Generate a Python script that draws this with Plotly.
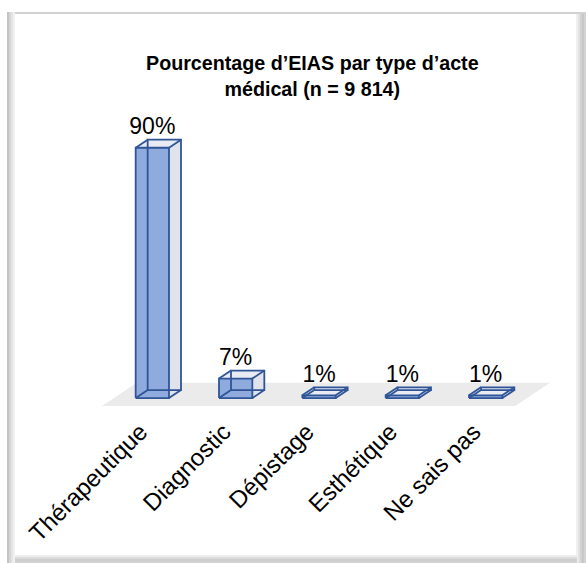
import plotly.graph_objects as go

# ---------------- data ----------------
categories = ["Thérapeutique", "Diagnostic", "Dépistage", "Esthétique", "Ne sais pas"]
values = [90, 7, 1, 1, 1]
value_labels = ["90%", "7%", "1%", "1%", "1%"]
title_lines = ["Pourcentage d’EIAS par type d’acte", "médical (n = 9 814)"]

# ---------------- layout constants ----------------
W, H = 586, 563
ML, MR, MT, MB = 69, 17, 106, 151
X_RANGE = [-1, 5]
Y_RANGE = [-5, 105]

BAR_W = 0.40      # front face width (category units)
DX = 0.144        # 3D depth offset, x (category units)
DY = 2.88         # 3D depth offset, y (percent units)
FLOOR_BACK = 1.9  # floor depth behind bars (in depth units)

EDGE = "#2F5597"
FRONT = "#8FAADC"
SIDE = "#E0E3EC"
TOP = "#E8EBF3"
FLOOR = "#EBEBEB"
FONT = "Liberation Sans, Arial, sans-serif"

fig = go.Figure()

idx = list(range(len(categories)))

# floor (computed from number of categories and depth offsets)
fl_l, fl_r = -0.46, len(categories) - 0.5
floor_x = [fl_l - DX, fl_r - DX, fl_r + FLOOR_BACK * DX, fl_l + FLOOR_BACK * DX, fl_l - DX]
floor_y = [-DY, -DY, FLOOR_BACK * DY, FLOOR_BACK * DY, -DY]
fig.add_trace(go.Scatter(x=floor_x, y=floor_y, mode="lines", fill="toself",
                         fillcolor=FLOOR, line=dict(width=0), hoverinfo="skip",
                         showlegend=False))

edge_x, edge_y = [], []
for i, v in zip(idx, values):
    x0, x1 = i - BAR_W / 2, i + BAR_W / 2
    # right side face
    fig.add_trace(go.Scatter(
        x=[x1, x1 + DX, x1 + DX, x1, x1],
        y=[0, DY, v + DY, v, 0],
        mode="lines", fill="toself", fillcolor=SIDE, line=dict(width=0),
        hoverinfo="skip", showlegend=False))
    # top face
    fig.add_trace(go.Scatter(
        x=[x0, x1, x1 + DX, x0 + DX, x0],
        y=[v, v, v + DY, v + DY, v],
        mode="lines", fill="toself", fillcolor=TOP, line=dict(width=0),
        hoverinfo="skip", showlegend=False))
    # front face
    fig.add_trace(go.Scatter(
        x=[x0, x1, x1, x0, x0],
        y=[0, 0, v, v, 0],
        mode="lines", fill="toself", fillcolor=FRONT, line=dict(width=0),
        hoverinfo="skip", showlegend=False))
    # edges (wireframe, including hidden ones seen through)
    segs = [
        ([x0, x1, x1, x0, x0], [0, 0, v, v, 0]),
        ([x0 + DX, x1 + DX, x1 + DX, x0 + DX, x0 + DX], [DY, DY, v + DY, v + DY, DY]),
        ([x0, x0 + DX], [0, DY]),
        ([x1, x1 + DX], [0, DY]),
        ([x1, x1 + DX], [v, v + DY]),
        ([x0, x0 + DX], [v, v + DY]),
    ]
    for sx, sy in segs:
        edge_x += sx + [None]
        edge_y += sy + [None]

fig.add_trace(go.Scatter(x=edge_x, y=edge_y, mode="lines",
                         line=dict(color=EDGE, width=1.8),
                         hoverinfo="skip", showlegend=False))

# value labels
fig.add_trace(go.Scatter(
    x=idx, y=[v + DY for v in values], mode="text", text=value_labels,
    textposition="top center",
    textfont=dict(family=FONT, size=23, color="#000000"),
    hoverinfo="skip", showlegend=False))


# ---------------- frame ----------------
PW = W - ML - MR
PH = H - MT - MB


def px(xp):
    return (xp - ML) / PW


def py(yp):
    return 1 - (yp - MT) / PH


shapes = []


def line(xa, ya, xb, yb, color, width=2):
    shapes.append(dict(type="line", xref="paper", yref="paper",
                       x0=px(xa), y0=py(ya), x1=px(xb), y1=py(yb),
                       line=dict(color=color, width=width), layer="above"))


# top border
line(7, 13, 586, 13, "#D2D2D2", 2)
# left border with inner gradient
for xx, c in [(8, "#C4C4C4"), (10, "#D6D6D6"), (12, "#E4E4E4"), (14, "#F1F1F1")]:
    line(xx, 12, xx, 563, c, 2)
# right border gradient
for xx, c in [(577, "#F0F0F0"), (579, "#E2E2E2"), (581, "#D2D2D2"), (583, "#C8C8C8"), (585, "#D4D4D4")]:
    line(xx, 14, xx, 563, c, 2)
# bottom border gradient
for yy, c in [(556, "#EEEEEE"), (558, "#DCDCDC"), (560, "#CDCDCD"), (562, "#D2D2D2")]:
    line(15, yy, 577, yy, c, 2)

annotations = [dict(
    xref="paper", yref="paper", x=px(312), y=py(76),
    xanchor="center", yanchor="middle", showarrow=False,
    text="<b>" + "<br>".join(title_lines) + "</b>",
    font=dict(family=FONT, size=19.7, color="#000000"), align="center")]

fig.update_layout(
    width=W, height=H,
    margin=dict(l=ML, r=MR, t=MT, b=MB, pad=0, autoexpand=False),
    paper_bgcolor="white", plot_bgcolor="white",
    showlegend=False,
    shapes=shapes,
    annotations=annotations,
    xaxis=dict(range=X_RANGE, tickvals=[i - DX for i in idx], ticktext=categories,
               tickangle=-45, tickfont=dict(family=FONT, size=24, color="#000000"),
               showgrid=False, zeroline=False, showline=False, ticks="",
               automargin=False, fixedrange=True),
    yaxis=dict(range=Y_RANGE, visible=False, showgrid=False, zeroline=False,
               automargin=False, fixedrange=True),
)

fig.write_html(
    "out.html",
    config={"displayModeBar": False},
    post_script="document.body.style.margin='0';document.body.style.overflow='hidden';",
)
